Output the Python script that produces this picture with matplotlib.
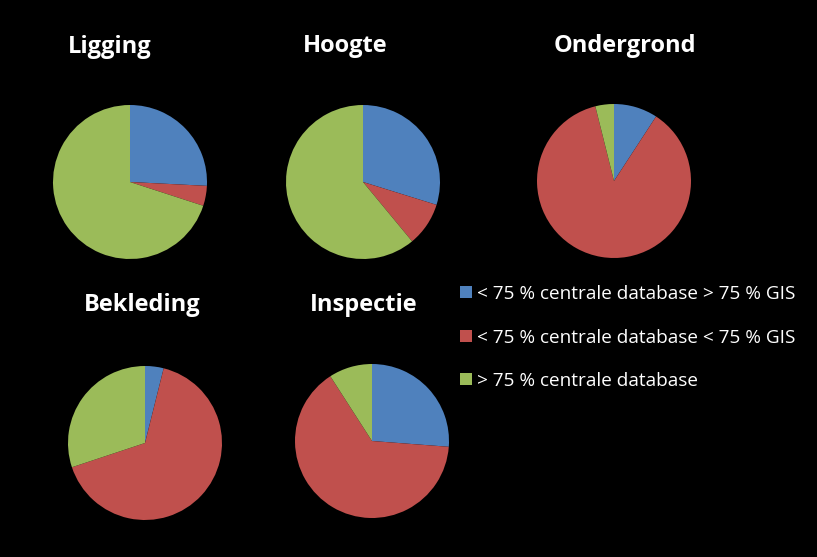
import matplotlib
matplotlib.use("Agg")
import matplotlib.pyplot as plt
from matplotlib.patches import Patch

# ---------------------------
# Data
# ---------------------------
CATEGORIES = [
    "< 75 % centrale database > 75 % GIS",
    "< 75 % centrale database < 75 % GIS",
    "> 75 % centrale database",
]
COLORS = ["#4F81BD", "#C0504D", "#9BBB59"]

TITLES = ["Ligging", "Hoogte", "Ondergrond", "Bekleding", "Inspectie"]
LIGGING = [25.8, 4.2, 70.0]
HOOGTE = [29.8, 9.2, 61.0]
ONDERGROND = [9.2, 86.9, 3.9]
BEKLEDING = [3.9, 66.0, 30.1]
INSPECTIE = [26.2, 64.7, 9.1]
VALUES = [LIGGING, HOOGTE, ONDERGROND, BEKLEDING, INSPECTIE]

W, H = 817, 557
# pie centres / title positions in pixels (layout only)
CENTERS = [(130, 182), (363, 182), (614, 181), (145, 443), (372, 441)]
TITLE_POS = [(110, 47), (345, 46), (625, 46), (142, 305), (364, 305)]
R = 77

fig = plt.figure(figsize=(W / 100, H / 100), dpi=100, facecolor="black")
plt.rcParams["font.family"] = ["Open Sans", "DejaVu Sans"]

for (cx, cy), (tx, ty), title, vals in zip(CENTERS, TITLE_POS, TITLES, VALUES):
    ax = fig.add_axes([(cx - R) / W, (H - cy - R) / H, 2 * R / W, 2 * R / H])
    ax.pie(vals, colors=COLORS, startangle=90, counterclock=False,
           radius=1, wedgeprops=dict(linewidth=0))
    ax.set_xlim(-1, 1)
    ax.set_ylim(-1, 1)
    ax.set_aspect("equal")
    ax.axis("off")
    fig.text(tx / W, 1 - ty / H, title, color="white", fontsize=17,
             fontweight="bold", ha="center", va="center")

handles = [Patch(facecolor=c, edgecolor="none") for c in COLORS]
fig.legend(handles, CATEGORIES, loc="upper left",
           bbox_to_anchor=(443 / W, 1 - 268 / H), frameon=False,
           labelcolor="white", fontsize=13.7, handlelength=0.6,
           handleheight=0.6, handletextpad=0.28, labelspacing=1.34)

fig.savefig("out.png", dpi=100, facecolor="black")
